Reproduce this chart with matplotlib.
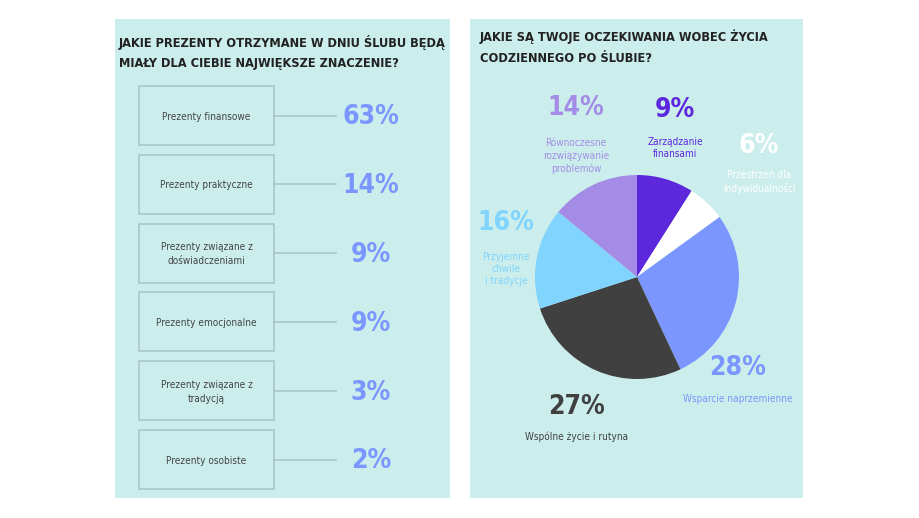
import matplotlib
matplotlib.use("Agg")
import matplotlib.pyplot as plt
from matplotlib.patches import Rectangle

# ---- data ----
left_title = ["JAKIE PREZENTY OTRZYMANE W DNIU ŚLUBU BĘDĄ",
              "MIAŁY DLA CIEBIE NAJWIĘKSZE ZNACZENIE?"]
gift_labels = ["Prezenty finansowe", "Prezenty praktyczne", "Prezenty związane z\ndoświadczeniami",
               "Prezenty emocjonalne", "Prezenty związane z\ntradycją", "Prezenty osobiste"]
gift_values = [63, 14, 9, 9, 3, 2]

right_title = ["JAKIE SĄ TWOJE OCZEKIWANIA WOBEC ŻYCIA",
               "CODZIENNEGO PO ŚLUBIE?"]
life_labels = ["Zarządzanie\nfinansami", "Przestrzeń dla\nindywidualności", "Wsparcie naprzemienne",
               "Wspólne życie i rutyna", "Przyjemne\nchwile\ni tradycje", "Równoczesne\nrozwiązywanie\nproblemów"]
life_values = [9, 6, 28, 27, 16, 14]
life_colors = ["#5d27dc", "#ffffff", "#7b96fe", "#404040", "#80d4fd", "#a48ce6"]

# condensed face of DejaVu Sans
plt.rcParams['font.family'] = ["DejaVu Sans"]
plt.rcParams['font.stretch'] = "condensed"

W, H = 920, 518
fig = plt.figure(figsize=(W / 100, H / 100), dpi=100)
fig.patch.set_facecolor("white")
ax = fig.add_axes([0, 0, 1, 1])
ax.set_xlim(0, W)
ax.set_ylim(H, 0)
ax.axis("off")

panel_color = "#cbeeec"
ax.add_patch(Rectangle((115, 19), 335, 479, facecolor=panel_color, edgecolor="none"))
ax.add_patch(Rectangle((470, 19), 333, 479, facecolor=panel_color, edgecolor="none"))

title_kw = dict(fontsize=9.2, fontweight="bold", color="#222222", va="center", ha="left")

# ---- left panel ----
for k, line in enumerate(left_title):
    ax.text(119, 42 + k * 21, line, **title_kw)

box_x, box_w, box_h = 139, 135, 59
for i, (lab, val) in enumerate(zip(gift_labels, gift_values)):
    y0 = 86 + i * 68.8
    yc = y0 + box_h / 2
    ax.add_patch(Rectangle((box_x, y0), box_w, box_h, facecolor="none",
                           edgecolor="#a9c2c3", linewidth=1.1))
    ax.text(box_x + box_w / 2, yc + 1, lab, fontsize=7.2, color="#444444",
            ha="center", va="center", linespacing=1.55)
    ax.plot([box_x + box_w, 336], [yc, yc], color="#a9c2c3", linewidth=1.1)
    ax.text(371, yc + 2, f"{val}%", fontsize=19, fontweight="bold", color="#7b96fe",
            ha="center", va="center")

# ---- right panel ----
for k, line in enumerate(right_title):
    ax.text(480, 37 + k * 21, line, **title_kw)

cx, cy, r = 637, 277, 102
pax = fig.add_axes([(cx - r) / W, (H - cy - r) / H, 2 * r / W, 2 * r / H])
pax.pie(life_values, colors=life_colors, startangle=90, counterclock=False,
        wedgeprops=dict(linewidth=0))
pax.set_xlim(-1, 1)
pax.set_ylim(-1, 1)
pax.set_aspect("equal")
pax.axis("off")

pct_pos = [(675, 110), (759, 146), (738, 368), (577, 407), (506, 223), (576, 108)]
lab_pos = [(675, 148), (759, 182), (738, 399), (577, 437), (506, 269), (576, 156)]
for i, val in enumerate(life_values):
    px, py = pct_pos[i]
    lx, ly = lab_pos[i]
    col = life_colors[i]
    ax.text(px, py, f"{val}%", fontsize=19, fontweight="bold", color=col,
            ha="center", va="center")
    ax.text(lx, ly, life_labels[i], fontsize=7.2, color=col, ha="center", va="center",
            linespacing=1.3)

fig.savefig("out.png", dpi=100)
